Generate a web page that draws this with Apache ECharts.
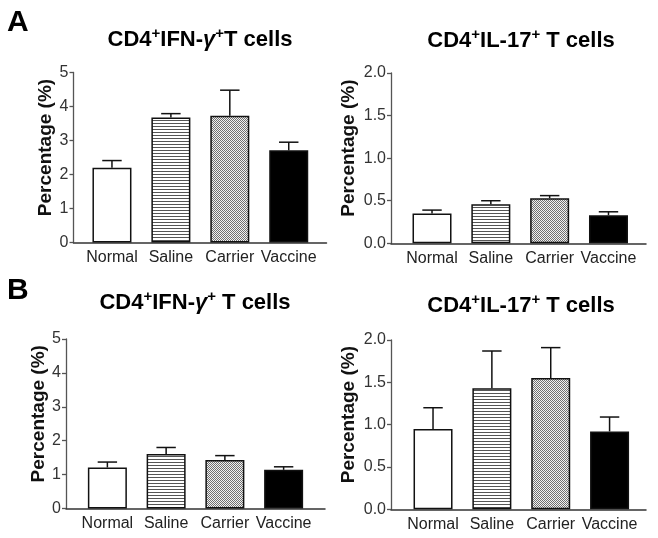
<!DOCTYPE html>
<html>
<head>
<meta charset="utf-8">
<script src="https://cdn.jsdelivr.net/npm/echarts@6/dist/echarts.min.js"></script>
<style>
  html, body { margin: 0; padding: 0; background: #fff; }
  #chart { width: 658px; height: 538px; }
</style>
</head>
<body>
<div id="chart"></div>
<script>
// ---- data ----
var categories = ['Normal', 'Saline', 'Carrier', 'Vaccine'];
var ticksIFN = [0, 1, 2, 3, 4, 5];
var ticksIL17 = ['0.0', '0.5', '1.0', '1.5', '2.0'];

var aIFNMean = [2.20, 3.68, 3.73, 2.71];
var aIFNSem  = [0.21, 0.11, 0.75, 0.24];
var aIL17Mean = [0.35, 0.46, 0.53, 0.33];
var aIL17Sem  = [0.04, 0.04, 0.03, 0.04];
var bIFNMean = [1.21, 1.61, 1.43, 1.14];
var bIFNSem  = [0.16, 0.19, 0.13, 0.09];
var bIL17Mean = [0.95, 1.43, 1.55, 0.92];
var bIL17Sem  = [0.25, 0.44, 0.36, 0.17];

var FONT = "'Liberation Sans', Arial, sans-serif";

// ---- fill patterns ----
function makeStripe() {
  var c = document.createElement('canvas');
  c.width = 4; c.height = 3;
  var g = c.getContext('2d');
  g.fillStyle = '#ffffff'; g.fillRect(0, 0, 4, 3);
  g.fillStyle = '#555555'; g.fillRect(0, 0, 4, 1);
  return c;
}
function makeChecker() {
  var c = document.createElement('canvas');
  c.width = 2; c.height = 2;
  var g = c.getContext('2d');
  g.fillStyle = '#f2f2f2'; g.fillRect(0, 0, 2, 2);
  g.fillStyle = '#707070'; g.fillRect(0, 0, 1, 1); g.fillRect(1, 1, 1, 1);
  return c;
}
var fills = ['#ffffff', { image: makeStripe(), repeat: 'repeat' }, { image: makeChecker(), repeat: 'repeat' }, '#000000'];

// ---- panel layout ----
var panels = [
  { mean: aIFNMean, sem: aIFNSem, max: 5, interval: 1, dec: 0,
    main: { left: 82.5, top: 72.5, width: 235.7, height: 170 }, off: 9,
    line: { left: 73.5, width: 253 }, nameGap: 16 },
  { mean: aIL17Mean, sem: aIL17Sem, max: 2, interval: 0.5, dec: 1,
    main: { left: 402.6, top: 73, width: 235.3, height: 170.3 }, off: 11.6,
    line: { left: 391, width: 255 }, nameGap: 33 },
  { mean: bIFNMean, sem: bIFNSem, max: 5, interval: 1, dec: 0,
    main: { left: 78, top: 339, width: 235, height: 169.5 }, off: 12,
    line: { left: 66, width: 259 }, nameGap: 16 },
  { mean: bIL17Mean, sem: bIL17Sem, max: 2, interval: 0.5, dec: 1,
    main: { left: 403.6, top: 340, width: 235.4, height: 169.3 }, off: 12.6,
    line: { left: 391, width: 255 }, nameGap: 33 }
];

var grid = [], xAxis = [], yAxis = [], series = [];
panels.forEach(function (p, i) {
  var gi = grid.length;
  grid.push({ left: p.main.left, top: p.main.top, width: p.main.width, height: p.main.height, containLabel: false });
  xAxis.push({
    type: 'category', gridIndex: gi, data: categories,
    axisLine: { show: false }, axisTick: { show: false },
    axisLabel: { fontFamily: FONT, fontSize: 16, color: '#222', margin: 7, interval: 0 }
  });
  yAxis.push({
    type: 'value', gridIndex: gi, min: 0, max: p.max, interval: p.interval, offset: p.off,
    name: 'Percentage (%)', nameLocation: 'middle', nameGap: p.nameGap,
    nameTextStyle: { fontFamily: FONT, fontSize: 19, fontWeight: 'bold', color: '#111', padding: [0, 0, 0, 20] },
    axisLine: { show: true, lineStyle: { color: '#555', width: 1.3 } },
    axisTick: { show: true, length: 4, lineStyle: { color: '#555', width: 1.3 } },
    axisLabel: { fontFamily: FONT, fontSize: 16, color: '#333', margin: 5,
      formatter: function (v) { return v.toFixed(p.dec); } },
    splitLine: { show: false }
  });
  // bars
  series.push({
    type: 'bar', xAxisIndex: gi, yAxisIndex: gi, barWidth: 39,
    data: p.mean.map(function (v, k) {
      return { value: v, itemStyle: { color: fills[k] } };
    }),
    itemStyle: { borderColor: '#111', borderWidth: 1.5 },
    emphasis: { disabled: true },
    animation: false, z: 2
  });
  // error bars (upper only)
  series.push({
    type: 'custom', xAxisIndex: gi, yAxisIndex: gi, z: 3, animation: false,
    data: p.mean.map(function (v, k) { return [k, v, v + p.sem[k]]; }),
    renderItem: function (params, api) {
      var base = api.coord([api.value(0), api.value(1)]);
      var top = api.coord([api.value(0), api.value(2)]);
      var half = api.size([1, 0])[0] * 0.165;
      var st = { stroke: '#111', lineWidth: 1.5 };
      return { type: 'group', children: [
        { type: 'line', shape: { x1: base[0], y1: base[1], x2: top[0], y2: top[1] }, style: st },
        { type: 'line', shape: { x1: top[0] - half, y1: top[1], x2: top[0] + half, y2: top[1] }, style: st }
      ] };
    }
  });
  // baseline axis grid (x axis line starting at y axis)
  var li = grid.length;
  grid.push({ left: p.line.left, top: p.main.top, width: p.line.width, height: p.main.height, containLabel: false });
  xAxis.push({ type: 'value', gridIndex: li, min: 0, max: 1,
    axisLine: { show: true, onZero: false, lineStyle: { color: '#333', width: 1.5 } },
    axisTick: { show: false }, axisLabel: { show: false }, splitLine: { show: false } });
  yAxis.push({ type: 'value', gridIndex: li, min: 0, max: 1, show: false });
});

var titleRich = {
  b: { fontFamily: FONT, fontSize: 22, fontWeight: 'bold', color: '#111', lineHeight: 26, verticalAlign: 'bottom' },
  g: { fontFamily: FONT, fontSize: 22, fontWeight: 'bold', fontStyle: 'italic', color: '#111', lineHeight: 26, verticalAlign: 'bottom' },
  s: { fontFamily: FONT, fontSize: 15, fontWeight: 'bold', color: '#111', lineHeight: 15, verticalAlign: 'bottom', padding: [0, 0, 10, 0] }
};
var titles = [
  { x: 200, y: 38, text: '{b|CD4}{s|+}{b|IFN-}{g|γ}{s|+}{b|T cells}' },
  { x: 521, y: 39, text: '{b|CD4}{s|+}{b|IL-17}{s|+}{b| T cells}' },
  { x: 195, y: 301, text: '{b|CD4}{s|+}{b|IFN-}{g|γ}{s|+}{b| T cells}' },
  { x: 521, y: 304, text: '{b|CD4}{s|+}{b|IL-17}{s|+}{b| T cells}' }
];
var graphic = titles.map(function (t) {
  return { type: 'text', x: t.x, y: t.y, style: { text: t.text, rich: titleRich, align: 'center', verticalAlign: 'middle', textAlign: 'center', textVerticalAlign: 'middle' } };
});
graphic.push({ type: 'text', x: 7, y: 23, style: { text: 'A', font: "bold 30px " + FONT, fill: '#000', verticalAlign: 'middle', textVerticalAlign: 'middle' } });
graphic.push({ type: 'text', x: 7, y: 291, style: { text: 'B', font: "bold 30px " + FONT, fill: '#000', verticalAlign: 'middle', textVerticalAlign: 'middle' } });

var chart = echarts.init(document.getElementById('chart'), null, { renderer: 'canvas' });
chart.setOption({
  backgroundColor: '#fff',
  animation: false,
  grid: grid, xAxis: xAxis, yAxis: yAxis, series: series, graphic: graphic
});
</script>
</body>
</html>
